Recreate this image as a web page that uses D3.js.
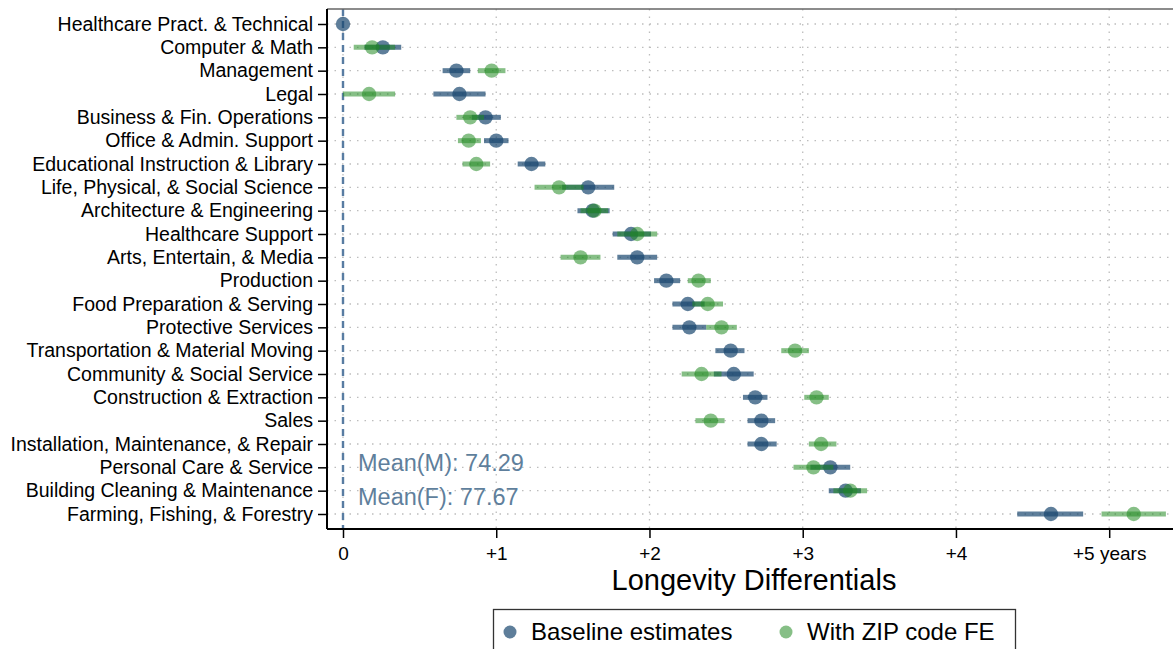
<!DOCTYPE html>
<html><head><meta charset="utf-8">
<script src="https://cdn.jsdelivr.net/npm/d3@7"></script>
<style>body{margin:0;background:#fff;overflow:hidden}svg{display:block;font-family:"Liberation Sans",Arial,sans-serif}</style>
</head><body>
<script>
const categories = ["Healthcare Pract. & Technical","Computer & Math","Management","Legal","Business & Fin. Operations","Office & Admin. Support","Educational Instruction & Library","Life, Physical, & Social Science","Architecture & Engineering","Healthcare Support","Arts, Entertain, & Media","Production","Food Preparation & Serving","Protective Services","Transportation & Material Moving","Community & Social Service","Construction & Extraction","Sales","Installation, Maintenance, & Repair","Personal Care & Service","Building Cleaning & Maintenance","Farming, Fishing, & Forestry"];
const baseline = [0, 0.26, 0.74, 0.76, 0.93, 1.00, 1.23, 1.60, 1.63, 1.88, 1.92, 2.11, 2.25, 2.26, 2.53, 2.55, 2.69, 2.73, 2.73, 3.18, 3.28, 4.62];
const baseLo = [null, 0.14, 0.65, 0.59, 0.84, 0.92, 1.14, 1.43, 1.53, 1.76, 1.79, 2.03, 2.15, 2.15, 2.43, 2.42, 2.61, 2.64, 2.64, 3.05, 3.17, 4.40];
const baseHi = [null, 0.38, 0.83, 0.93, 1.03, 1.08, 1.32, 1.77, 1.74, 2.01, 2.05, 2.20, 2.36, 2.37, 2.62, 2.68, 2.77, 2.82, 2.83, 3.31, 3.38, 4.83];
const zipFE = [null, 0.19, 0.97, 0.17, 0.83, 0.82, 0.87, 1.41, 1.64, 1.92, 1.55, 2.32, 2.38, 2.47, 2.95, 2.34, 3.09, 2.40, 3.12, 3.07, 3.31, 5.16];
const zipLo = [null, 0.07, 0.88, 0.00, 0.74, 0.75, 0.78, 1.25, 1.55, 1.79, 1.42, 2.25, 2.28, 2.37, 2.86, 2.21, 3.01, 2.30, 3.04, 2.94, 3.20, 4.95];
const zipHi = [null, 0.34, 1.06, 0.34, 0.92, 0.90, 0.96, 1.57, 1.73, 2.05, 1.68, 2.40, 2.48, 2.57, 3.04, 2.47, 3.17, 2.49, 3.22, 3.20, 3.42, 5.37];
const xTicks = [0, 1, 2, 3, 4, 5];
const xTickLabels = ["0", "+1", "+2", "+3", "+4", "+5 years"];
const meanLabels = ["Mean(M): 74.29", "Mean(F): 77.67"];
const legendLabels = ["Baseline estimates", "With ZIP code FE"];

const W = 1173, H = 649;
const L = 327, T = 9, B = 529, R = 1185;
const BLUE = "rgb(26,71,111)", GREEN = "rgb(34,139,34)";
const svg = d3.select("body").append("svg").attr("width", W).attr("height", H);

const x = d3.scaleLinear().domain([0, 5]).range([343, 1109.2]);
const y = d3.scalePoint().domain(categories).range([24, 514]);

// gridlines
svg.append("g").selectAll("line").data(xTicks).join("line")
  .attr("x1", d => x(d)).attr("x2", d => x(d)).attr("y1", T).attr("y2", B)
  .attr("stroke", "#bdbdbd").attr("stroke-width", 1.3).attr("stroke-dasharray", "1.5,6");
svg.append("g").selectAll("line").data(categories).join("line")
  .attr("x1", L).attr("x2", R).attr("y1", d => y(d)).attr("y2", d => y(d))
  .attr("stroke", "#bdbdbd").attr("stroke-width", 1.3).attr("stroke-dasharray", "1.5,6");

// zero line
svg.append("line").attr("x1", x(0)).attr("x2", x(0)).attr("y1", T).attr("y2", B)
  .attr("stroke", "#587ca2").attr("stroke-width", 2.4).attr("stroke-dasharray", "7,5");

// frame
svg.append("line").attr("x1", L).attr("x2", R).attr("y1", T).attr("y2", T).attr("stroke", "#666").attr("stroke-width", 1.5);

const rows = categories.map((c, i) => ({c, b: baseline[i], bl: baseLo[i], bh: baseHi[i], z: zipFE[i], zl: zipLo[i], zh: zipHi[i]}));
const ops = 0.7;
// baseline CI + dots
svg.append("g").selectAll("line").data(rows.filter(d => d.bl != null)).join("line")
  .attr("x1", d => x(d.bl)).attr("x2", d => x(d.bh)).attr("y1", d => y(d.c)).attr("y2", d => y(d.c))
  .attr("stroke", BLUE).attr("stroke-opacity", ops).attr("stroke-width", 5);
svg.append("g").selectAll("circle").data(rows).join("circle")
  .attr("cx", d => x(d.b)).attr("cy", d => y(d.c)).attr("r", 7.2)
  .attr("fill", BLUE).attr("fill-opacity", ops);
// zip CI + dots
svg.append("g").selectAll("line").data(rows.filter(d => d.zl != null)).join("line")
  .attr("x1", d => x(d.zl)).attr("x2", d => x(d.zh)).attr("y1", d => y(d.c)).attr("y2", d => y(d.c))
  .attr("stroke", GREEN).attr("stroke-opacity", 0.55).attr("stroke-width", 5);
svg.append("g").selectAll("circle").data(rows.filter(d => d.z != null)).join("circle")
  .attr("cx", d => x(d.z)).attr("cy", d => y(d.c)).attr("r", 7.2)
  .attr("fill", GREEN).attr("fill-opacity", 0.55);

// axes
const yAxis = svg.append("g").attr("transform", `translate(${L},0)`)
  .call(d3.axisLeft(y).tickSize(9).tickPadding(5));
yAxis.select(".domain").attr("d", `M0,${T}V${B}`).attr("stroke", "#000").attr("stroke-width", 2);
yAxis.selectAll(".tick line").attr("stroke", "#000").attr("stroke-width", 1.5);
yAxis.selectAll(".tick text").attr("font-size", 19.5).attr("fill", "#000").attr("font-family", "Liberation Sans, Arial, sans-serif");

const xAxis = svg.append("g").attr("transform", `translate(0,${B})`)
  .call(d3.axisBottom(x).tickValues(xTicks).tickFormat((d, i) => xTickLabels[i]).tickSize(9).tickPadding(9));
xAxis.select(".domain").attr("d", `M${L},0H${R}`).attr("stroke", "#000").attr("stroke-width", 2);
xAxis.selectAll(".tick line").attr("stroke", "#000").attr("stroke-width", 1.5);
xAxis.selectAll(".tick text").attr("font-size", 19).attr("fill", "#000").attr("font-family", "Liberation Sans, Arial, sans-serif");

svg.append("text").attr("x", 754).attr("y", 590).attr("text-anchor", "middle")
  .attr("font-size", 29).attr("fill", "#000").text("Longevity Differentials");

// mean labels
svg.selectAll(".mean").data(meanLabels).join("text").attr("class", "mean")
  .attr("x", 358).attr("y", (d, i) => 471 + i * 34).attr("font-size", 23.5).attr("fill", "#5f7f9c").text(d => d);

// legend
svg.append("rect").attr("x", 493.5).attr("y", 609.5).attr("width", 522).attr("height", 60)
  .attr("fill", "#fff").attr("stroke", "#333").attr("stroke-width", 1.3);
const lg = svg.append("g");
const legX = [510, 786];
const legC = [BLUE, GREEN];
lg.selectAll("circle").data(legendLabels).join("circle")
  .attr("cx", (d, i) => legX[i]).attr("cy", 632).attr("r", 6.5)
  .attr("fill", (d, i) => legC[i]).attr("fill-opacity", (d, i) => i ? 0.55 : 0.7);
lg.selectAll("text").data(legendLabels).join("text")
  .attr("x", (d, i) => legX[i] + 21).attr("y", 640).attr("font-size", 24).attr("fill", "#000").text(d => d);
</script>
</body></html>
